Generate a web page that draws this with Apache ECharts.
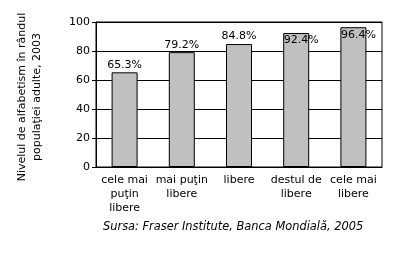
<!DOCTYPE html>
<html>
<head>
<meta charset="utf-8">
<script src="https://cdn.jsdelivr.net/npm/echarts@6/dist/echarts.min.js"></script>
<style>html,body{margin:0;padding:0;background:#fff}#c{width:407px;height:265px}</style>
</head>
<body>
<div id="c"></div>
<script>
var categories = ['cele mai\npuţin\nlibere', 'mai puţin\nlibere', 'libere', 'destul de\nlibere', 'cele mai\nlibere'];
var values = [65.3, 79.2, 84.8, 92.4, 96.4];
var yTicks = [0, 20, 40, 60, 80, 100];
var yTitle = 'Nivelul de alfabetism în rândul\npopulaţiei adulte, 2003';
var source = 'Sursa: Fraser Institute, Banca Mondială, 2005';

var FONT = 'DejaVu Sans';
var chart = echarts.init(document.getElementById('c'), null, {renderer: 'canvas'});
var insideIdx = {3: [5, 0], 4: [5, 0]};
var data = values.map(function (v, i) {
  var d = {value: v};
  if (insideIdx[i]) {
    d.label = {position: 'insideTop', distance: 2, offset: insideIdx[i]};
  }
  return d;
});
chart.setOption({
  animation: false,
  backgroundColor: '#fff',
  grid: {left: 96, right: 25, top: 22, bottom: 98, show: true, borderColor: '#000', borderWidth: 1},
  xAxis: {
    type: 'category',
    data: categories,
    axisLine: {lineStyle: {color: '#000'}},
    axisTick: {length: 4, lineStyle: {color: '#000'}},
    axisLabel: {color: '#000', fontFamily: FONT, fontSize: 11, lineHeight: 14, margin: 6, interval: 0}
  },
  yAxis: {
    type: 'value',
    min: yTicks[0],
    max: yTicks[yTicks.length - 1],
    interval: yTicks[1] - yTicks[0],
    axisLine: {show: true, lineStyle: {color: '#000'}},
    axisTick: {show: true, length: 4, lineStyle: {color: '#000'}},
    axisLabel: {color: '#000', fontFamily: FONT, fontSize: 11, margin: 6},
    splitLine: {lineStyle: {color: '#000'}}
  },
  series: [{
    type: 'bar',
    data: data,
    barWidth: 26,
    itemStyle: {color: '#C0C0C0', borderColor: '#000', borderWidth: 1},
    label: {
      show: true, position: 'top', distance: 2,
      formatter: function (p) { return p.value.toFixed(1) + '%'; },
      color: '#000', fontFamily: FONT, fontSize: 11
    }
  }],
  graphic: [
    {
      type: 'text', x: 30, y: 97, rotation: Math.PI / 2,
      style: {text: yTitle, fontFamily: FONT, fontSize: 11, lineHeight: 15, fill: '#000', textAlign: 'center', textVerticalAlign: 'middle'}
    },
    {
      type: 'text', x: 103, y: 227,
      style: {text: source, fontFamily: FONT, fontSize: 11.4, fontStyle: 'italic', fill: '#000', textAlign: 'left', textVerticalAlign: 'middle'}
    }
  ]
});
</script>
</body>
</html>
